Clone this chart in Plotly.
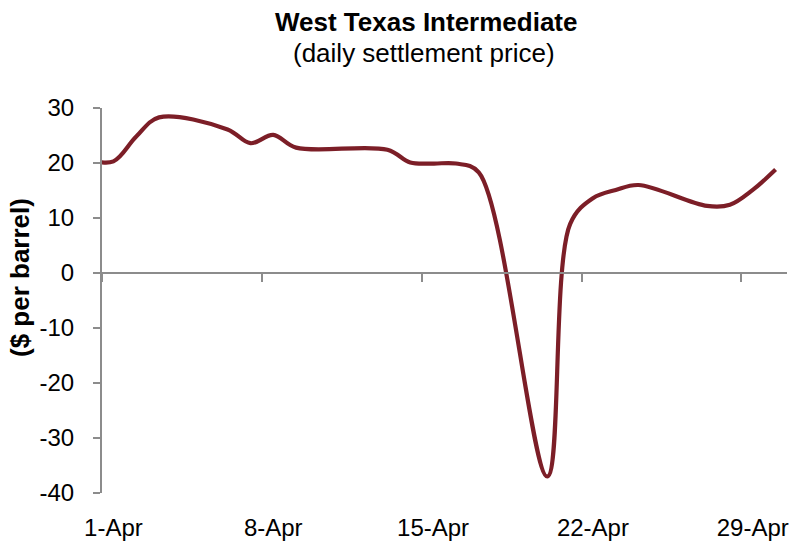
import plotly.graph_objects as go

# WTI daily settlement prices, April 2020 ($ per barrel); trading days only
dates = [
    "2020-03-31", "2020-04-01", "2020-04-02", "2020-04-03",
    "2020-04-06", "2020-04-07", "2020-04-08", "2020-04-09",
    "2020-04-13", "2020-04-14", "2020-04-15", "2020-04-16", "2020-04-17",
    "2020-04-20", "2020-04-21", "2020-04-22", "2020-04-23", "2020-04-24",
    "2020-04-27", "2020-04-28", "2020-04-29", "2020-04-30",
]
prices = [
    20.5, 20.3, 24.8, 28.3,
    26.1, 23.6, 25.1, 22.8,
    22.4, 20.1, 19.9, 19.9, 18.3,
    -37.0, 8.9, 13.6, 15.1, 16.0,
    12.2, 12.4, 15.1, 18.8,
]

# weekly tick days and their labels
tick_days = ["2020-04-01", "2020-04-08", "2020-04-15", "2020-04-22", "2020-04-29"]
tick_labels = ["1-Apr", "8-Apr", "15-Apr", "22-Apr", "29-Apr"]

# value axis ticks (plain hyphen for negatives)
y_ticks = [-40, -30, -20, -10, 0, 10, 20, 30]
y_tick_labels = ["-40", "-30", "-20", "-10", "0", "10", "20", "30"]

x_range = ["2020-04-01", "2020-05-01"]
y_range = [-40, 30]

# each day's value sits in the middle of its day slot
x_mid = [d + " 12:00" for d in dates]
label_pos = [d + " 12:00" for d in tick_days]

LINE = "#7C1E27"
AXIS = "#8C8C8C"
FONT = "Liberation Sans, Arial, sans-serif"

W, H = 800, 543
M_L, M_R, M_T, M_B = 102, 13, 108, 50
plot_w = W - M_L - M_R
plot_h = H - M_T - M_B


def py(pixel_y):
    # pixel row -> paper y
    return 1 + (M_T - pixel_y) / plot_h


def px(pixel_x):
    # pixel column -> paper x
    return (pixel_x - M_L) / plot_w


fig = go.Figure()
fig.add_trace(go.Scatter(
    x=x_mid, y=prices, mode="lines",
    line=dict(color=LINE, width=4.2, shape="spline", smoothing=1.0),
    xaxis="x", yaxis="y", hoverinfo="x+y", showlegend=False,
))
# transparent copy so the zero-crossing axis is drawn
fig.add_trace(go.Scatter(
    x=x_mid, y=prices, mode="lines",
    line=dict(color="rgba(0,0,0,0)", width=0),
    xaxis="x2", yaxis="y", hoverinfo="skip", showlegend=False,
))

zero_pos = (0 - y_range[0]) / (y_range[1] - y_range[0])

fig.update_layout(
    width=W, height=H,
    margin=dict(l=M_L, r=M_R, t=M_T, b=M_B, autoexpand=False),
    paper_bgcolor="white", plot_bgcolor="white",
    font=dict(family=FONT, color="black"),
    xaxis=dict(
        type="date", range=x_range, automargin=False,
        tickvals=label_pos, ticktext=tick_labels,
        showline=False, ticks="", showgrid=False, zeroline=False,
        tickfont=dict(size=24), ticklabelstandoff=18,
    ),
    xaxis2=dict(
        type="date", range=x_range, overlaying="x", anchor="free",
        position=zero_pos, side="bottom", automargin=False,
        tickvals=tick_days, showticklabels=False,
        showline=True, linecolor=AXIS, linewidth=2,
        ticks="outside", ticklen=8, tickwidth=2, tickcolor=AXIS,
        showgrid=False, zeroline=False,
    ),
    yaxis=dict(
        range=y_range, automargin=False,
        tickvals=y_ticks, ticktext=y_tick_labels,
        showline=True, linecolor=AXIS, linewidth=2,
        ticks="outside", ticklen=7, tickwidth=2, tickcolor=AXIS,
        showgrid=False, zeroline=False,
        tickfont=dict(size=24), ticklabelstandoff=14,
    ),
    annotations=[
        dict(text="<b>West Texas Intermediate</b>", xref="paper", yref="paper",
             x=px(426), y=py(22), xanchor="center", yanchor="middle",
             showarrow=False, font=dict(size=26)),
        dict(text="(daily settlement price)", xref="paper", yref="paper",
             x=px(424), y=py(53), xanchor="center", yanchor="middle",
             showarrow=False, font=dict(size=26)),
        dict(text="<b>($ per barrel)</b>", xref="paper", yref="paper",
             x=px(20), y=py(278), xanchor="center", yanchor="middle",
             textangle=-90, showarrow=False, font=dict(size=26)),
    ],
)

fig.write_html("out.html")
